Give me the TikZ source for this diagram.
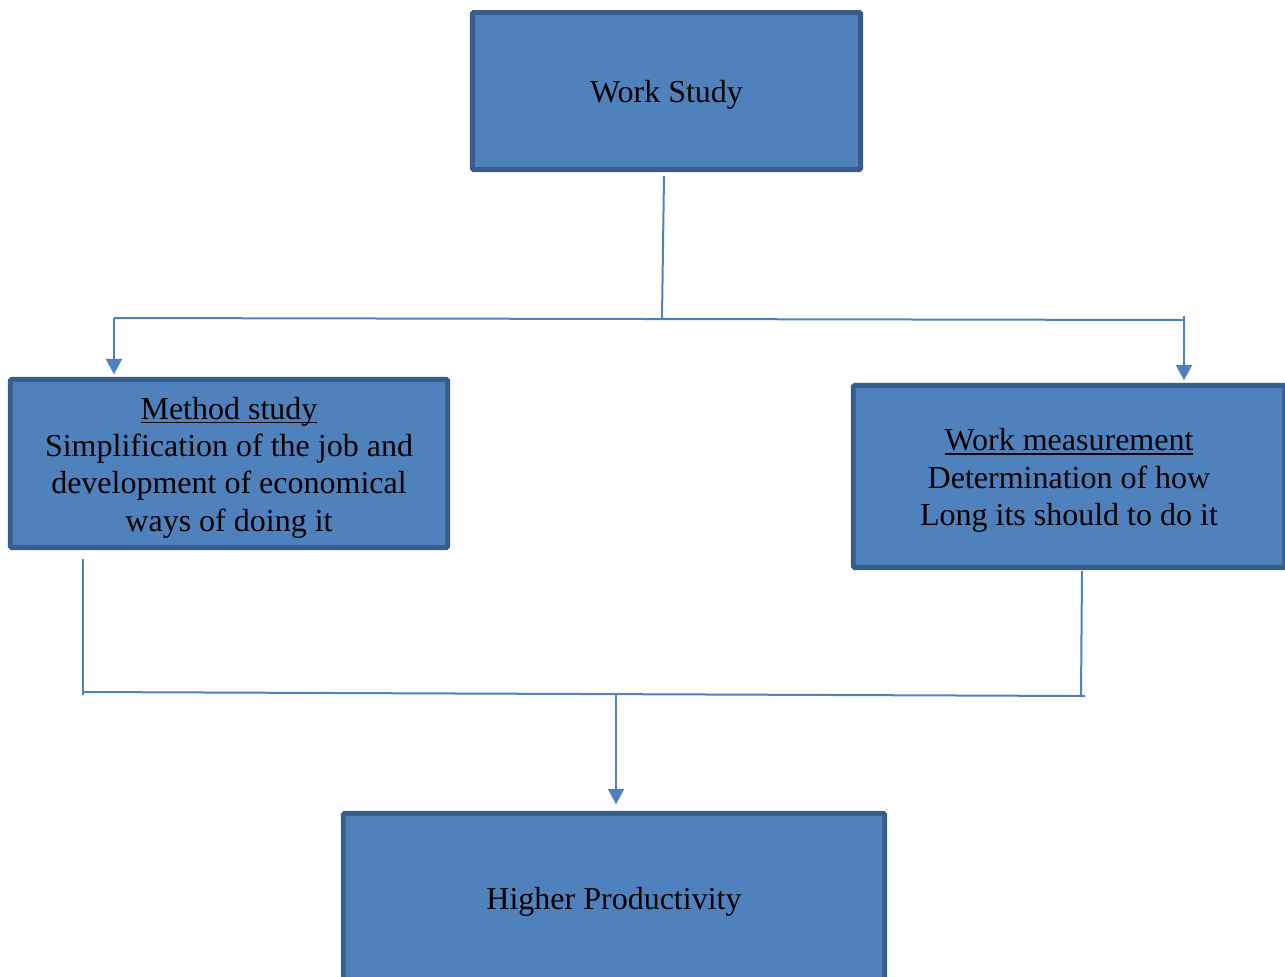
\documentclass[tikz,border=0pt]{standalone}
\usepackage{fontspec}
\setmainfont{Liberation Serif}
\usetikzlibrary{arrows.meta}
\definecolor{boxfill}{HTML}{4F81BD}
\definecolor{boxline}{HTML}{385D8A}
% underline that crosses descenders, as in a word processor
\newcommand\headline[1]{\setbox0\hbox{#1}\rlap{\rule[-3pt]{\wd0}{1.1pt}}\box0}
% centred lines, set a little below the box centre
\newcommand\boxtext[1]{\raisebox{-3.2pt}[\height][\depth]{\begin{tabular}{@{}c@{}}#1\end{tabular}}}
\begin{document}
\begin{tikzpicture}[x=0.75pt,y=-0.75pt,
  box/.style={draw=boxline, fill=boxfill, line width=3.6pt, rounded corners=1pt,
    inner sep=0pt, text=black, font=\fontsize{24}{28}\selectfont},
  link/.style={draw=boxfill, line width=1.5pt},
  arr/.style={link, -{Triangle[length=11.5pt,width=12pt]}}]
\useasboundingbox (0,0) rectangle (1285,976);

% boxes
\node[box, minimum width=291.2pt, minimum height=117.9pt] (ws) at (666.5,91)
  {\boxtext{Work Study}};
\node[box, minimum width=328pt, minimum height=126.2pt] (ms) at (229,463.5)
  {\boxtext{\headline{Method study}\\Simplification of the job and\\development of economical\\ways of doing it}};
\node[box, minimum width=323.5pt, minimum height=136.7pt] (wm) at (1069,476.5)
  {\boxtext{\headline{Work measurement}\\Determination of how\\Long its should to do it}};
\node[box, minimum width=406pt, minimum height=127pt] (hp) at (614,898)
  {\boxtext{Higher Productivity}};

% upper split
\coordinate (wsout) at (664,176);
\coordinate (split) at (662,318);
\coordinate (lt) at (114,318);
\coordinate (rt) at (1185,320);
\coordinate (rtop) at (1184,316);
\draw[link] (wsout) -- (split);
\draw[link] (lt) -- (rt);
\draw[arr, shorten >=2pt] (lt) -- (lt |- ms.north);
\draw[arr, shorten >=2pt] (rtop) -- (rtop |- wm.north);

% lower merge
\coordinate (msout) at (83,559);
\coordinate (mlb) at (83,695);
\coordinate (jl) at (83,692);
\coordinate (jr) at (1085,696);
\coordinate (wmout) at (1082,571);
\coordinate (wmb) at (1081,695);
\coordinate (mid) at (616,694);
\draw[link] (msout) -- (mlb);
\draw[link] (jl) -- (jr);
\draw[link] (wmout) -- (wmb);
\draw[arr, shorten >=5pt] (mid) -- (mid |- hp.north);
\end{tikzpicture}
\end{document}
